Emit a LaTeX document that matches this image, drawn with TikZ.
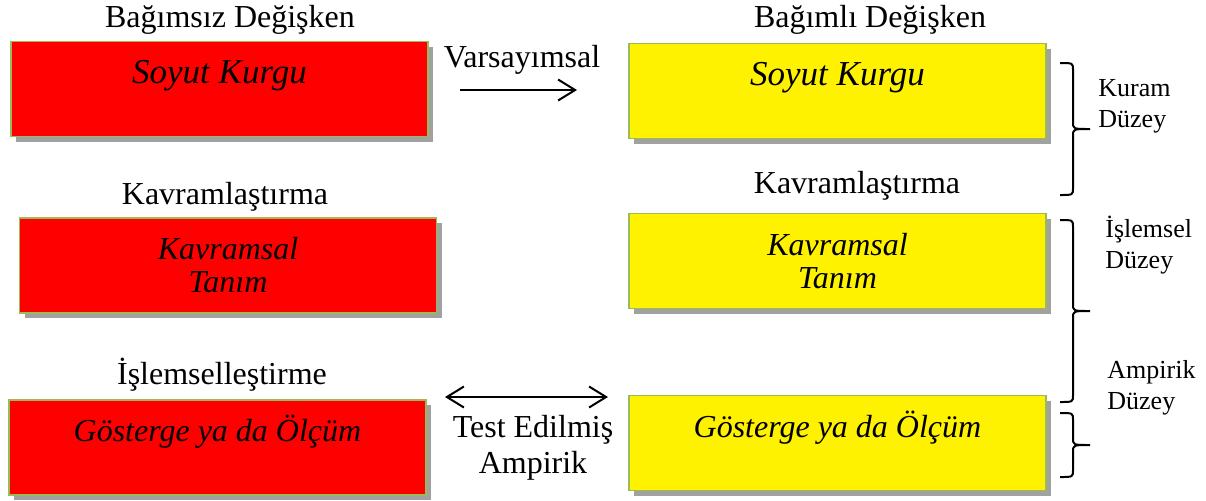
\documentclass[tikz,border=0pt]{standalone}
\usepackage{fontspec}
\setmainfont{Liberation Serif}
\usepackage{tikz}
\usetikzlibrary{
  arrows.meta,
  shadows
}
\definecolor{boxBorder}{HTML}{9BBB59}
\colorlet{independent}{red}
\colorlet{dependent}{yellow}
\colorlet{boxShadow}{black!37}

\begin{document}
\begin{tikzpicture}[
  x=0.5pt, y=-0.5pt,
  every node/.style={font=\fontsize{16}{16.5}\selectfont, inner sep=0pt},
  box/.style={draw=boxBorder, line width=0.7pt, minimum width=208.5pt,
    minimum height=47.5pt, align=center,
    font=\fontsize{16}{16.5}\selectfont\itshape,
    drop shadow={shadow xshift=2.5pt, shadow yshift=-2.5pt,
      fill=boxShadow, opacity=1}},
  top line/.style={text height=11pt, text depth=17pt},
  big text/.style={font=\fontsize{17.5}{18}\selectfont\itshape},
  heading/.style={anchor=base},
  level/.style={anchor=base west, align=left,
    font=\fontsize{13}{15.5}\selectfont},
  arrow/.style={line width=1pt, -{Straight Barb[length=8.5pt,width=10.5pt]}},
  both arrow/.style={line width=1pt,
    {Straight Barb[length=8.5pt,width=10.5pt]}-{Straight Barb[length=8.5pt,width=10.5pt]}},
  level brace/.style={line width=1pt}
]
\useasboundingbox (0,0) rectangle (1206,500);

% boxes
\node[box, fill=independent, top line, big text] (absInd) at (219.5,89) {Soyut Kurgu};
\node[box, fill=independent] (conInd) at (228,265.5) {Kavramsal\\Tanım};
\node[box, fill=independent, top line] (meaInd) at (217.5,447.5) {Gösterge ya da Ölçüm};
\node[box, fill=dependent, top line, big text] (absDep) at (837.5,91) {Soyut Kurgu};
\node[box, fill=dependent] (conDep) at (837.5,261) {Kavramsal\\Tanım};
\node[box, fill=dependent, top line] (meaDep) at (837.5,443) {Gösterge ya da Ölçüm};

% headings
\node[heading] (indHead) at (230,27) {Bağımsız Değişken};
\node[heading] (depHead) at (870,27) {Bağımlı Değişken};
\node[heading] (conLeft) at (225,204) {Kavramlaştırma};
\node[heading] (conRight) at (857,193) {Kavramlaştırma};
\node[heading] (opLeft) at (222,384) {İşlemselleştirme};

% hypothesis
\node[heading] (hypo) at (522,67) {Varsayımsal};
\coordinate (hypoStart) at (460,90);
\coordinate (hypoEnd) at (577,90);
\draw[arrow] (hypoStart) -- (hypoEnd);

% empirical test
\coordinate (testStart) at (445,397);
\coordinate (testEnd) at (608,397);
\draw[both arrow] (testStart) -- (testEnd);
\node[heading, align=center, font=\fontsize{16}{18}\selectfont] (test) at (533,473) {Test Edilmiş\\Ampirik};

% levels
\foreach \nm/\top/\bot in {theory/63/195, operational/220/402, empirical/413/477} {
  \pgfmathsetmacro\mid{(\top+\bot)/2}
  \coordinate (\nm Top) at (1060,\top);
  \coordinate (\nm Tip) at (1090,\mid);
  \coordinate (\nm Bot) at (1060,\bot);
  \draw[level brace] (\nm Top) .. controls (1073,\top) .. (1073,\top+7)
    -- (1073,\mid-7) .. controls (1073,\mid) .. (\nm Tip)
    .. controls (1073,\mid) .. (1073,\mid+7)
    -- (1073,\bot-7) .. controls (1073,\bot) .. (\nm Bot);
}
\node[level] (theoryText) at (1098,127) {Kuram\\Düzey};
\node[level] (operText) at (1105,268) {İşlemsel\\Düzey};
\node[level] (empText) at (1107,409) {Ampirik\\Düzey};
\end{tikzpicture}
\end{document}
